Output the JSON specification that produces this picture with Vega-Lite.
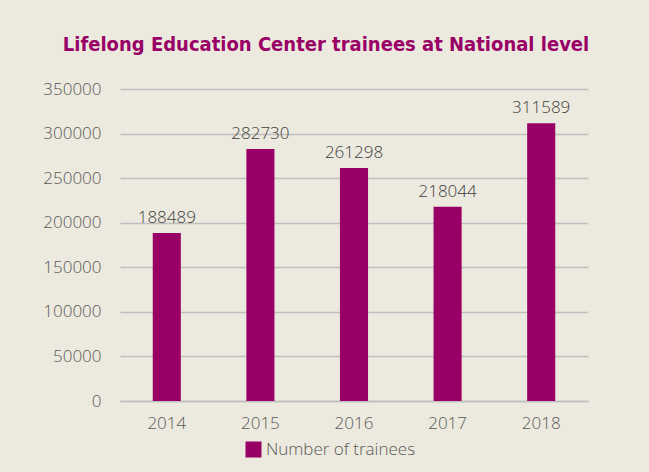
{
  "$schema": "https://vega.github.io/schema/vega-lite/v6.json",
  "autosize": "none",
  "width": 468,
  "height": 312,
  "padding": {"left": 120, "top": 89, "right": 61, "bottom": 71},
  "background": "#ECE9DE",
  "config": {
    "view": {"stroke": null},
    "font": "Open Sans"
  },
  "title": {
    "text": "Lifelong Education Center trainees at National level",
    "font": "DejaVu Sans Condensed",
    "fontSize": 20,
    "fontWeight": "bold",
    "color": "#990066",
    "anchor": "middle",
    "dx": -28,
    "offset": 25
  },
  "data": {
    "values": [
      {"year": "2014", "trainees": 188489, "series": "Number of trainees"},
      {"year": "2015", "trainees": 282730, "series": "Number of trainees"},
      {"year": "2016", "trainees": 261298, "series": "Number of trainees"},
      {"year": "2017", "trainees": 218044, "series": "Number of trainees"},
      {"year": "2018", "trainees": 311589, "series": "Number of trainees"}
    ]
  },
  "encoding": {
    "x": {
      "field": "year",
      "type": "nominal",
      "scale": {"paddingInner": 0.7, "paddingOuter": 0.35},
      "axis": {
        "title": null,
        "labelAngle": 0,
        "labelFont": "Open Sans",
        "labelFontSize": 17,
        "labelFontWeight": 300,
        "labelColor": "#595959",
        "labelPadding": 14,
        "ticks": false,
        "domainColor": "#BFBFBF",
        "domainWidth": 1.5
      }
    },
    "y": {
      "field": "trainees",
      "type": "quantitative",
      "scale": {"domain": [0, 350000], "nice": false},
      "axis": {
        "title": null,
        "values": [0, 50000, 100000, 150000, 200000, 250000, 300000, 350000],
        "format": "d",
        "labelFont": "Open Sans",
        "labelFontSize": 17,
        "labelFontWeight": 300,
        "labelColor": "#595959",
        "labelPadding": 19,
        "ticks": false,
        "domain": false,
        "gridColor": "#BFBFBF",
        "gridWidth": 1.3
      }
    }
  },
  "layer": [
    {
      "mark": {"type": "bar"},
      "encoding": {
        "color": {
          "field": "series",
          "type": "nominal",
          "scale": {"range": ["#990066"]},
          "legend": {
            "title": null,
            "orient": "none",
            "legendX": 125,
            "legendY": 352,
            "padding": 0,
            "symbolType": "square",
            "symbolSize": 256,
            "symbolStrokeWidth": 0,
            "symbolOpacity": 1,
            "labelFont": "Open Sans",
            "labelFontSize": 17,
            "labelFontWeight": 300,
            "labelColor": "#595959",
            "labelOffset": 4
          }
        }
      }
    },
    {
      "mark": {
        "type": "text",
        "baseline": "alphabetic",
        "dy": -10,
        "font": "Open Sans",
        "fontSize": 17,
        "fontWeight": 300,
        "color": "#404040"
      },
      "encoding": {
        "text": {"field": "trainees", "type": "quantitative", "format": "d"}
      }
    }
  ]
}
